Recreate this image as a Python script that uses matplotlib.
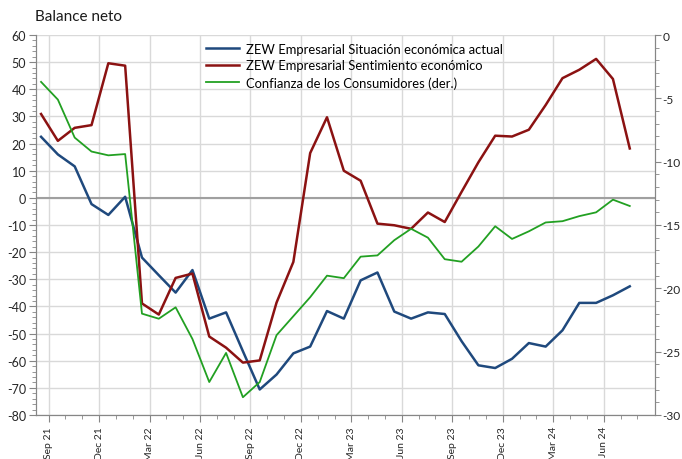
import numpy as np
import matplotlib.pyplot as plt
from matplotlib.ticker import MultipleLocator, FixedLocator

plt.rcParams['font.family'] = ['Lato', 'DejaVu Sans']
plt.rcParams['axes.unicode_minus'] = False

# Monthly data, Sep 21 - Aug 24
months = ["Sep 21", "Oct 21", "Nov 21", "Dec 21", "Jan 22", "Feb 22", "Mar 22", "Apr 22", "May 22",
          "Jun 22", "Jul 22", "Aug 22", "Sep 22", "Oct 22", "Nov 22", "Dec 22", "Jan 23", "Feb 23",
          "Mar 23", "Apr 23", "May 23", "Jun 23", "Jul 23", "Aug 23", "Sep 23", "Oct 23", "Nov 23",
          "Dec 23", "Jan 24", "Feb 24", "Mar 24", "Apr 24", "May 24", "Jun 24", "Jul 24", "Aug 24"]

situacion = [22.5, 16.0, 11.6, -2.3, -6.3, 0.4, -22.0, -28.5, -34.9, -26.6, -44.5, -42.2,
             -56.5, -70.6, -65.1, -57.3, -54.8, -41.7, -44.5, -30.4, -27.5, -41.9, -44.5, -42.2,
             -42.8, -52.8, -61.7, -62.7, -59.3, -53.5, -54.8, -48.8, -38.7, -38.7, -35.9, -32.6]

sentimiento = [30.9, 21.0, 25.8, 26.8, 49.6, 48.7, -38.9, -43.0, -29.5, -27.9, -51.1, -55.2,
               -60.7, -59.9, -38.6, -23.6, 16.5, 29.7, 10.0, 6.3, -9.5, -10.1, -11.4, -5.4,
               -8.9, 2.2, 13.1, 22.9, 22.6, 25.1, 34.2, 44.1, 47.2, 51.2, 43.8, 18.2]

consumidores = [-3.7, -5.1, -8.1, -9.2, -9.5, -9.4, -22.0, -22.4, -21.5, -24.0, -27.4, -25.1,
                -28.6, -27.4, -23.7, -22.2, -20.7, -19.0, -19.2, -17.5, -17.4, -16.2, -15.3, -16.0,
                -17.7, -17.9, -16.7, -15.1, -16.1, -15.5, -14.8, -14.7, -14.3, -14.0, -13.0, -13.5]

x = np.arange(len(months))
tick_off = 0.45
grid_col = "#d9d9d9"
axis_col = "#868686"

fig = plt.figure(figsize=(6.82, 4.60), dpi=100)
ax = fig.add_axes([0.0528, 0.0957, 0.9076, 0.826])
ax2 = ax.twinx()

ax.set_xlim(-0.3, 36.5)
ax.set_ylim(-80, 60)
ax2.set_ylim(-30, 0)

# grid
ax.yaxis.set_major_locator(MultipleLocator(10))
ax.yaxis.set_minor_locator(MultipleLocator(2))
ax2.yaxis.set_major_locator(MultipleLocator(5))
ax2.yaxis.set_minor_locator(MultipleLocator(1))
major_x = [i + tick_off for i in range(0, len(months), 3)]
ax.xaxis.set_major_locator(FixedLocator(major_x))
ax.xaxis.set_minor_locator(FixedLocator([i + tick_off for i in range(len(months))]))
ax.set_xticklabels([months[i] for i in range(0, len(months), 3)], rotation=90)
ax.grid(True, which="major", color=grid_col, lw=1)
ax.set_axisbelow(True)
ax.axhline(0, color="#a0a0a0", lw=1.5, zorder=1)

ax.plot(x, situacion, color="#1f497d", lw=1.8, label="ZEW Empresarial Situación económica actual")
ax.plot(x, sentimiento, color="#8b1212", lw=1.8, label="ZEW Empresarial Sentimiento económico")
ax2.plot(x, consumidores, color="#22a022", lw=1.3, label="Confianza de los Consumidores (der.)")

for a in (ax, ax2):
    a.spines["top"].set_visible(False)
    for s in ("left", "right", "bottom"):
        a.spines[s].set_color(axis_col)
    a.tick_params(which="both", colors=axis_col, labelcolor="#262626", labelsize=9, pad=2)
    a.tick_params(which="major", length=5)
    a.tick_params(which="minor", length=3)
ax.tick_params(axis="x", labelsize=7.5, pad=3)
ax2.tick_params(which="major", length=4, pad=1.5, labelsize=8.6)

h1, l1 = ax.get_legend_handles_labels()
h2, l2 = ax2.get_legend_handles_labels()
ax.legend(h1 + h2, l1 + l2, loc="upper left", bbox_to_anchor=(0.262, 1.0), frameon=False,
          fontsize=9.4, handlelength=2.5, handletextpad=0.6, labelspacing=0.35, borderaxespad=0.2)

fig.text(0.052, 0.955, "Balance neto", fontsize=11, color="#1a1a1a")

fig.savefig("out.png", dpi=100)
